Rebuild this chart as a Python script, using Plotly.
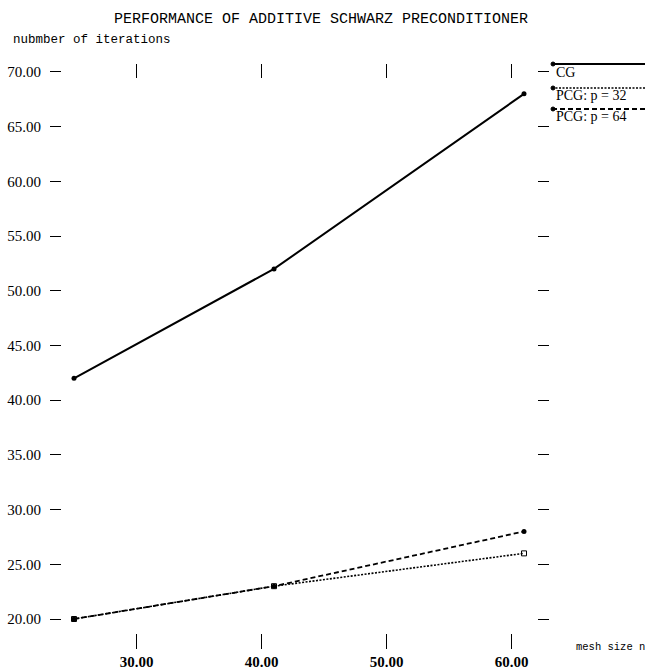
import plotly.graph_objects as go

mesh_size = [25, 41, 61]
cg = [42, 52, 68]
pcg_32 = [20, 23, 26]
pcg_64 = [20, 23, 28]
x_ticks = [30, 40, 50, 60]
y_ticks = [20, 25, 30, 35, 40, 45, 50, 55, 60, 65, 70]
series_names = ["CG", "PCG: p = 32", "PCG: p = 64"]

serif = "Liberation Serif, Times New Roman, serif"
mono = "Liberation Mono, DejaVu Sans Mono, monospace"

fig = go.Figure()
fig.add_trace(go.Scatter(x=mesh_size, y=cg, mode="lines+markers", name=series_names[0],
                         line=dict(color="black", width=2),
                         marker=dict(symbol="circle", size=5, color="black")))
fig.add_trace(go.Scatter(x=mesh_size, y=pcg_32, mode="lines+markers", name=series_names[1],
                         line=dict(color="black", width=1.6, dash="2px,1.5px"),
                         marker=dict(symbol="square-open", size=5, color="black")))
fig.add_trace(go.Scatter(x=mesh_size, y=pcg_64, mode="lines+markers", name=series_names[2],
                         line=dict(color="black", width=1.8, dash="5px,3px"),
                         marker=dict(symbol="circle", size=5, color="black")))
# invisible trace to anchor top tick axis
fig.add_trace(go.Scatter(x=mesh_size, y=cg, xaxis="x2", mode="none", showlegend=False,
                         hoverinfo="skip"))

L, R, T, B = 62, 108, 64, 38
W, H = 645, 671
pw = W - L - R
ph = H - T - B
xr = [24.04, 62.04]
yr = [18.72, 70.73]

fig.update_layout(
    width=W, height=H,
    margin=dict(l=L, r=R, t=T, b=B, autoexpand=False),
    paper_bgcolor="white", plot_bgcolor="white",
    showlegend=False,
    title=dict(text="PERFORMANCE OF ADDITIVE SCHWARZ PRECONDITIONER",
               font=dict(family=mono, size=15, color="black"),
               xref="container", x=321 / W, xanchor="center",
               yref="container", y=1 - 18 / H, yanchor="middle"),
    xaxis=dict(range=xr, tickvals=x_ticks, tickformat=".2f", automargin=False,
               showgrid=False, zeroline=False, showline=False,
               ticks="outside", ticklen=15, tickwidth=1, tickcolor="black",
               tickfont=dict(family=serif, size=15, color="black", weight="bold")),
    xaxis2=dict(range=xr, tickvals=x_ticks, overlaying="x", side="top", automargin=False,
                showgrid=False, zeroline=False, showline=False,
                ticks="inside", ticklen=14, tickwidth=1, tickcolor="black",
                showticklabels=False),
    yaxis=dict(range=yr, tickvals=y_ticks, tickformat=".2f", automargin=False,
               showgrid=False, zeroline=False, showline=False,
               ticks="outside", ticklen=11, tickwidth=1, tickcolor="black",
               mirror="ticks", ticklabelstandoff=6,
               tickfont=dict(family=serif, size=15, color="black")),
)

def px_x(p):
    return (p - L) / pw

def px_y(p):
    return (H - B - p) / ph

fig.add_annotation(text="nubmber of iterations", xref="paper", yref="paper",
                   x=px_x(11), y=px_y(40), xanchor="left", yanchor="middle",
                   showarrow=False, font=dict(family=mono, size=12.5, color="black"))
fig.add_annotation(text="mesh size n", xref="paper", yref="paper",
                   x=px_x(574), y=px_y(647), xanchor="left", yanchor="middle",
                   showarrow=False, font=dict(family=mono, size=10.5, color="black"))

legend_line_y = [64, 88, 109]
legend_text_y = [72, 95, 116]
legend_dash = ["solid", "2px,1.5px", "5px,3px"]
legend_width = [2, 1.6, 1.8]
for name, ly, ty, d, w in zip(series_names, legend_line_y, legend_text_y, legend_dash, legend_width):
    fig.add_shape(type="line", xref="paper", yref="paper",
                  x0=px_x(552), x1=px_x(660), y0=px_y(ly), y1=px_y(ly),
                  line=dict(color="black", width=w, dash=d))
    fig.add_shape(type="circle", xref="paper", yref="paper",
                  xsizemode="pixel", ysizemode="pixel",
                  xanchor=px_x(553), yanchor=px_y(ly),
                  x0=-2, x1=2, y0=-2, y1=2,
                  fillcolor="black", line=dict(color="black", width=1))
    fig.add_annotation(text=name, xref="paper", yref="paper",
                       x=px_x(554), y=px_y(ty), xanchor="left", yanchor="middle",
                       showarrow=False, font=dict(family=serif, size=14, color="black"))

fig.write_html("out.html", config={"displayModeBar": False},
               post_script="document.body.style.margin='0';document.body.style.overflow='hidden';")
